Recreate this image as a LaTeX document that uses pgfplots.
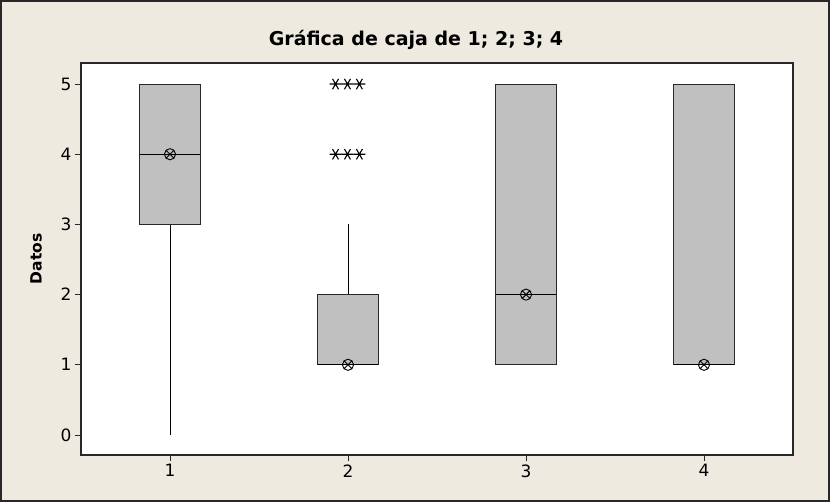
\documentclass[border=0pt]{standalone}
\usepackage{fontspec}
\setmainfont{DejaVu Sans}
\usepackage{pgfplots}
\pgfplotsset{compat=1.18}
\usepgfplotslibrary{statistics}
\usetikzlibrary{plotmarks}

\definecolor{panel}{RGB}{238,234,224}
\definecolor{boxgray}{RGB}{192,192,192}
\definecolor{edge}{RGB}{40,40,40}

\begin{document}
\begin{tikzpicture}[x=1pt,y=1pt]
  % outer panel and its frame
  \fill[panel] (0,0) rectangle (830,502);
  \draw[edge, line width=1.5pt] (1,1) rectangle (829,501);
  \useasboundingbox (0,0) rectangle (830,502);
  \node[font=\bfseries\fontsize{19}{22}\selectfont, anchor=base] at (416,456)
    {Gráfica de caja de 1; 2; 3; 4};

  \begin{axis}[
    at={(81pt,47pt)}, anchor=south west,
    width=712pt, height=392pt, scale only axis,
    xmin=0.5, xmax=4.5, ymin=-0.285, ymax=5.3,
    xtick={1,2,3,4}, ytick={0,1,2,3,4,5},
    xtick pos=left, ytick pos=left,
    tick align=outside, major tick length=6pt,
    tick style={edge, line width=0.8pt},
    axis line style={edge, line width=1.3pt},
    axis background/.style={fill=white},
    tick label style={font=\fontsize{17}{20}\selectfont},
    /pgf/number format/assume math mode=true,
    ylabel={Datos},
    every axis y label/.style={at={(axis description cs:0,0.5)}, xshift=-45pt,
      rotate=90, anchor=center, font=\bfseries\fontsize{15.5}{18}\selectfont},
    boxplot/draw direction=y,
    boxplot/box extend=0.3375,
    boxplot/whisker extend=0,
    boxplot/every box/.style={draw=edge, fill=boxgray, line width=1pt},
    boxplot/every whisker/.style={black, line width=0.8pt},
    boxplot/every median/.style={black, line width=1pt},
  ]
    % column 1
    \addplot[boxplot prepared={draw position=1, lower whisker=0,
      lower quartile=3, median=4, upper quartile=5, upper whisker=5}]
      coordinates {};
    % column 2
    \addplot[boxplot prepared={draw position=2, lower whisker=1,
      lower quartile=1, median=1, upper quartile=2, upper whisker=3}]
      coordinates {};
    % column 3
    \addplot[boxplot prepared={draw position=3, lower whisker=1,
      lower quartile=1, median=2, upper quartile=5, upper whisker=5}]
      coordinates {};
    % column 4
    \addplot[boxplot prepared={draw position=4, lower whisker=1,
      lower quartile=1, median=1, upper quartile=5, upper whisker=5}]
      coordinates {};

    % outliers of column 2 (repeated values spread sideways)
    \addplot[only marks, mark=asterisk, mark size=6pt,
      mark options={black, line width=1.1pt, rotate=90}] coordinates {
      (1.93,4) (1.997,4) (2.064,4)
      (1.93,5) (1.997,5) (2.064,5)
    };

    % mean symbols
    \addplot[only marks, mark=otimes, mark size=5.6pt,
      mark options={black, line width=0.9pt}] coordinates {
      (1,4) (2,1) (3,2) (4,1)
    };
  \end{axis}
\end{tikzpicture}
\end{document}
